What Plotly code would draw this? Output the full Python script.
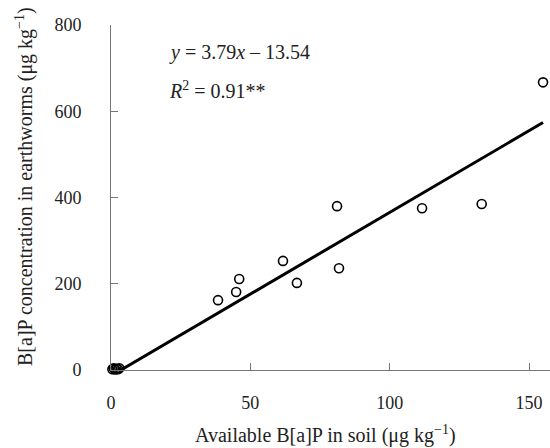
import plotly.graph_objects as go

soil_bap = [0.5, 1.0, 1.5, 2.0, 2.5, 3.0, 38.4, 44.9, 46.0, 61.7, 66.7, 81.1, 81.8, 111.6, 133.0, 155.0]
worm_bap = [2, 4, 1, 3, 2, 4, 162, 181, 211, 253, 202, 380, 236, 375, 385, 667]
slope = 3.79
intercept = -13.54
x_ticks = [0, 50, 100, 150]
y_ticks = [0, 200, 400, 600, 800]

FONT = "Liberation Serif"
xmin, xmax = min(soil_bap), max(soil_bap)
fit_x = [xmin, xmax]
fit_y = [slope * v + intercept for v in fit_x]

fig = go.Figure()
fig.add_trace(go.Scatter(x=fit_x, y=fit_y, mode="lines",
                         line=dict(color="black", width=3), showlegend=False, cliponaxis=True))
fig.add_trace(go.Scatter(x=soil_bap, y=worm_bap, mode="markers",
                         marker=dict(symbol="circle-open", size=9, color="black", line=dict(width=1.6)),
                         showlegend=False, cliponaxis=False))

L, T, B, W, H = 111, 25, 78, 550, 448
pw = W - L
ph = H - T - B
fig.update_layout(
    width=W, height=H,
    margin=dict(l=L, r=0, t=T, b=B),
    plot_bgcolor="white", paper_bgcolor="white",
    font=dict(family=FONT, size=18, color="#222"),
    xaxis=dict(range=[0, 157.5], tickvals=x_ticks, ticks="inside", ticklen=7, tickcolor="#777",
               showline=True, linecolor="#777", linewidth=1, showgrid=False, zeroline=False,
               ticklabelstandoff=16, tickfont=dict(family=FONT, size=18, color="#222")),
    yaxis=dict(range=[0, 800], tickvals=y_ticks, ticks="inside", ticklen=7, tickcolor="#777",
               showline=True, linecolor="#777", linewidth=1, showgrid=False, zeroline=False,
               ticklabelstandoff=25, tickfont=dict(family=FONT, size=18, color="#222")),
    annotations=[
        dict(text="B[a]P concentration in earthworms (μg kg<sup>−1</sup>)", textangle=-90,
             xref="paper", yref="paper", x=(25 - L) / pw, y=(370 - 187) / ph, xanchor="center", yanchor="middle",
             showarrow=False, font=dict(family=FONT, size=20, color="#222")),
        dict(text="Available B[a]P in soil (μg kg<sup>−1</sup>)",
             xref="paper", yref="paper", x=(325 - L) / pw, y=-(434 - 370) / ph,
             xanchor="center", yanchor="middle",
             showarrow=False, font=dict(family=FONT, size=20, color="#222")),
        dict(text="<i>y</i> = 3.79<i>x</i> – 13.54",
             xref="paper", yref="paper", x=(167 - L) / pw, y=(370 - 52) / ph,
             xanchor="left", yanchor="middle",
             showarrow=False, font=dict(family=FONT, size=20, color="#222")),
        dict(text="<i>R</i><sup>2</sup> = 0.91**",
             xref="paper", yref="paper", x=(167 - L) / pw, y=(370 - 90) / ph,
             xanchor="left", yanchor="middle",
             showarrow=False, font=dict(family=FONT, size=20, color="#222")),
    ],
)
fig.write_html("out.html")
